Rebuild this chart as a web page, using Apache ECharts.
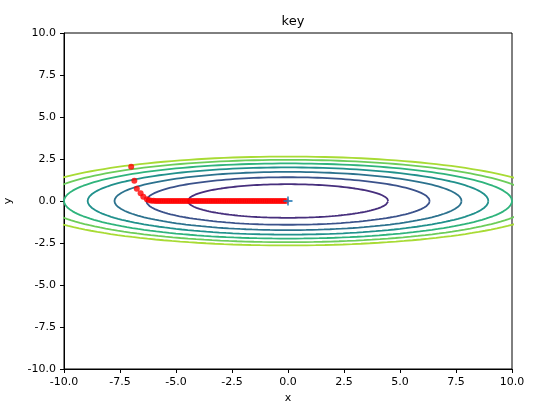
<!DOCTYPE html>
<html>
<head>
<meta charset="utf-8">
<script src="https://cdn.jsdelivr.net/npm/echarts@6/dist/echarts.min.js"></script>
<style>html,body{margin:0;padding:0;background:#fff}#main{width:554px;height:413px}</style>
</head>
<body>
<div id="main"></div>
<script>
// contour levels of f(x, y) = x^2/20 + y^2 and their colours
var levels = [1, 2, 3, 4, 5, 6, 7]
var levelColors = ['#472f7d', '#3b528b', '#2c728e', '#21918c', '#2fb47c', '#6ccd5a', '#a8db34']

// optimiser path
var pathX = [-7.0, -6.86, -6.75, -6.58, -6.46, -6.3, -6.2, -6.1, -6.0, -5.9, -5.8, -5.7, -5.6, -5.5, -5.4, -5.3,
  -5.2, -5.1, -5.0, -4.9, -4.8, -4.7, -4.6, -4.5, -4.4, -4.3, -4.2, -4.1, -4.0, -3.9, -3.8, -3.7, -3.6,
  -3.5, -3.4, -3.3, -3.2, -3.1, -3.0, -2.9, -2.8, -2.7, -2.6, -2.5, -2.4, -2.3, -2.2, -2.1, -2.0, -1.9,
  -1.8, -1.7, -1.6, -1.5, -1.4, -1.3, -1.2, -1.1, -1.0, -0.9, -0.8, -0.7, -0.6, -0.5, -0.4, -0.3, -0.2, -0.1]
var pathY = [2.04, 1.21, 0.73, 0.46, 0.26, 0.1, 0.04, 0.02, 0.01]
while (pathY.length < pathX.length) pathY.push(0)

var series = []
levels.forEach(function (c, i) {
    var pts = []
    for (var k = 0; k <= 360; k += 2) {
        var t = k * Math.PI / 180
        pts.push([Math.sqrt(20 * c) * Math.cos(t), Math.sqrt(c) * Math.sin(t)])
    }
    series.push({
        type: 'line', data: pts, symbol: 'none', silent: true, clip: true, z: 1,
        lineStyle: { color: levelColors[i], width: 1.8 }
    })
})
series.push({
    type: 'scatter', symbol: 'circle', symbolSize: 6, z: 5,
    data: pathX.map(function (x, i) { return [x, pathY[i]] }),
    itemStyle: { color: '#ff0000' }
})
series.push({
    type: 'scatter', data: [[0, 0]], symbolSize: 9, z: 6,
    symbol: 'path://M4,0H6V4H10V6H6V10H4V6H0V4H4Z',
    itemStyle: { color: '#1f77b4' }
})

var axisCommon = {
    type: 'value', min: -10, max: 10, interval: 2.5,
    nameLocation: 'middle',
    nameTextStyle: { color: '#000', fontSize: 11, fontFamily: 'DejaVu Sans' },
    axisLine: { onZero: false, lineStyle: { color: '#000' } },
    axisTick: { show: true, length: 4, inside: false, lineStyle: { color: '#000' } },
    axisLabel: { color: '#000', fontSize: 11, fontFamily: 'DejaVu Sans', formatter: function (v) { return v.toFixed(1) } },
    splitLine: { show: false }
}

var chart = echarts.init(document.getElementById('main'))
chart.setOption({
    animation: false,
    title: { text: 'key', left: 288, top: 10, textAlign: 'center',
        textStyle: { fontSize: 13, fontWeight: 'normal', color: '#000', fontFamily: 'DejaVu Sans' } },
    grid: { left: 64, right: 42, top: 33, bottom: 44, containLabel: false, outerBoundsMode: 'none',
        show: true, borderColor: '#000', borderWidth: 1 },
    xAxis: Object.assign({}, axisCommon, { name: 'x', nameGap: 22 }),
    yAxis: Object.assign({}, axisCommon, { name: 'y', nameGap: 50 }),
    series: series
})
</script>
</body>
</html>
